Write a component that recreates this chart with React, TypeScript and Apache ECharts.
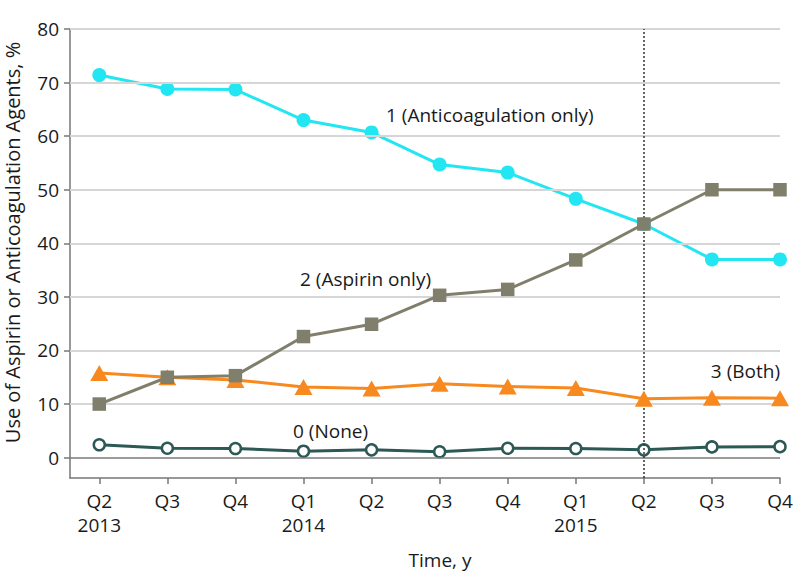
import React, { useEffect, useRef } from "react";
import * as echarts from "echarts";

const quarters = ["Q2", "Q3", "Q4", "Q1", "Q2", "Q3", "Q4", "Q1", "Q2", "Q3", "Q4"];
const years = ["2013", "", "", "2014", "", "", "", "2015", "", "", ""];
const anticoagulationOnly = [71.4, 68.8, 68.7, 63.0, 60.7, 54.7, 53.2, 48.3, 43.6, 37.0, 37.0];
const aspirinOnly = [10.0, 15.0, 15.3, 22.6, 24.9, 30.3, 31.4, 36.9, 43.6, 50.0, 50.0];
const both = [15.8, 15.0, 14.5, 13.2, 12.9, 13.8, 13.3, 13.0, 11.0, 11.2, 11.1];
const none = [2.4, 1.75, 1.7, 1.2, 1.45, 1.1, 1.75, 1.7, 1.45, 2.0, 2.05];
const yTicks = [0, 10, 20, 30, 40, 50, 60, 70, 80];
const gridValues = [10, 20, 30, 40, 50, 60, 70, 80];
const policyChangeIndex = 8;

const FONT = "Open Sans";
const FS = 19;
const TEXT = "#1a1a1a";
const AXIS = "#777777";

const toPairs = (arr: number[]) => arr.map((v, i) => [i, v]);

export default function App() {
  const ref = useRef<HTMLDivElement>(null);
  useEffect(() => {
    if (!ref.current) return;
    const chart = echarts.init(ref.current, undefined, { renderer: "svg" });
    const xIdx = quarters.map((_, i) => i);
    chart.setOption({
      animation: false,
      backgroundColor: "#ffffff",
      textStyle: { fontFamily: FONT },
      grid: { left: 70, right: 18, top: 29, bottom: 110, containLabel: false },
      xAxis: {
        type: "value",
        min: -0.43,
        max: 10,
        splitLine: { show: false },
        axisLine: { show: true, onZero: false, lineStyle: { color: AXIS, width: 1.5 } },
        axisTick: { show: true, customValues: xIdx, length: 6, lineStyle: { color: AXIS, width: 1.5 } },
        axisLabel: {
          customValues: xIdx,
          margin: 11,
          color: TEXT,
          fontSize: FS,
          lineHeight: 24,
          fontFamily: FONT,
          formatter: (v: number) => {
            const i = Math.round(v);
            return years[i] ? quarters[i] + "\n" + years[i] : quarters[i];
          },
        },
      },
      yAxis: {
        type: "value",
        min: -3.8,
        max: 80,
        splitLine: { show: false },
        axisLine: { show: true, onZero: false, lineStyle: { color: AXIS, width: 1.5 } },
        axisTick: { show: true, customValues: yTicks, length: 6, lineStyle: { color: AXIS, width: 1.5 } },
        axisLabel: { customValues: yTicks, margin: 11, color: TEXT, fontSize: FS, fontFamily: FONT },
      },
      graphic: [
        {
          type: "text",
          x: 12,
          y: 242.5,
          rotation: Math.PI / 2,
          style: {
            text: "Use of Aspirin or Anticoagulation Agents, %",
            fontSize: 20,
            fontFamily: FONT,
            fill: TEXT,
            textAlign: "center",
            textVerticalAlign: "middle",
          },
        },
        {
          type: "text",
          x: 440,
          y: 560,
          style: { text: "Time, y", fontSize: FS, fontFamily: FONT, fill: TEXT, textAlign: "center", textVerticalAlign: "middle" },
        },
        {
          type: "text",
          x: 386,
          y: 115,
          style: { text: "1 (Anticoagulation only)", fontSize: FS, fontFamily: FONT, fill: TEXT, textAlign: "left", textVerticalAlign: "middle" },
        },
        {
          type: "text",
          x: 300,
          y: 279,
          style: { text: "2 (Aspirin only)", fontSize: FS, fontFamily: FONT, fill: TEXT, textAlign: "left", textVerticalAlign: "middle" },
        },
        {
          type: "text",
          x: 780,
          y: 371,
          style: { text: "3 (Both)", fontSize: FS, fontFamily: FONT, fill: TEXT, textAlign: "right", textVerticalAlign: "middle" },
        },
        {
          type: "text",
          x: 293,
          y: 431,
          style: { text: "0 (None)", fontSize: FS, fontFamily: FONT, fill: TEXT, textAlign: "left", textVerticalAlign: "middle" },
        },
      ],
      series: [
        {
          type: "line",
          data: [],
          z: 1,
          silent: true,
          markLine: {
            silent: true,
            symbol: ["none", "none"],
            label: { show: false },
            animation: false,
            data: [
              ...gridValues.map((v) => ({ yAxis: v, lineStyle: { color: "#d6d6d6", width: 2, type: "solid" } })),
              { yAxis: 0, lineStyle: { color: "#7a7a7a", width: 1.5, type: "solid" } },
              { xAxis: policyChangeIndex, lineStyle: { color: "#333333", width: 1.5, type: [2, 2] } },
            ],
          },
        },
        {
          name: "0 (None)",
          type: "line",
          z: 3,
          data: toPairs(none),
          symbol: "circle",
          symbolSize: 11,
          lineStyle: { color: "#2c5855", width: 3 },
          itemStyle: { color: "#ffffff", borderColor: "#2c5855", borderWidth: 2.5 },
        },
        {
          name: "1 (Anticoagulation only)",
          type: "line",
          z: 4,
          data: toPairs(anticoagulationOnly),
          symbol: "circle",
          symbolSize: 14,
          lineStyle: { color: "#22e6f2", width: 3 },
          itemStyle: { color: "#22e6f2" },
        },
        {
          name: "3 (Both)",
          type: "line",
          z: 5,
          data: toPairs(both),
          symbol: "triangle",
          symbolSize: [18, 16],
          lineStyle: { color: "#f7891f", width: 3 },
          itemStyle: { color: "#f7891f" },
        },
        {
          name: "2 (Aspirin only)",
          type: "line",
          z: 6,
          data: toPairs(aspirinOnly),
          symbol: "rect",
          symbolSize: 13.5,
          lineStyle: { color: "#807f6b", width: 3 },
          itemStyle: { color: "#807f6b" },
        },
      ],
    });
    return () => chart.dispose();
  }, []);
  return <div ref={ref} style={{ width: 798, height: 588, position: "absolute", left: 0, top: 0 }} />;
}
